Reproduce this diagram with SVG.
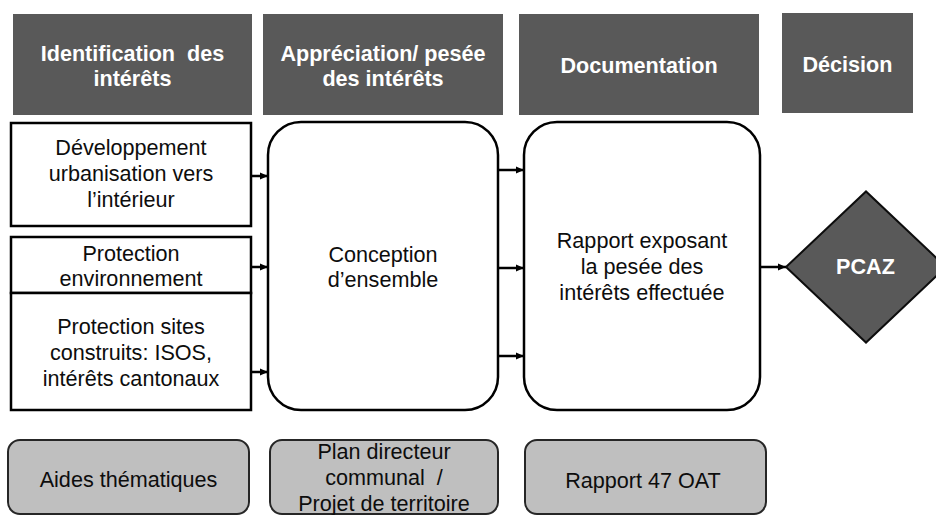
<svg xmlns="http://www.w3.org/2000/svg" width="936" height="515" viewBox="0 0 936 515">
<style>
.hdr{fill:#595959}
.ht{font-family:"Liberation Sans",Arial,sans-serif;font-size:21.6px;font-weight:bold;fill:#ffffff;text-anchor:middle}
.box{fill:#ffffff;stroke:#000000;stroke-width:2.5}
.t{font-family:"Liberation Sans",Arial,sans-serif;font-size:21.6px;fill:#0d0d0d;text-anchor:middle}
.pre{white-space:pre}
.aux{fill:#bfbfbf;stroke:#262626;stroke-width:2}
.con{stroke:#000000;stroke-width:2.5;fill:none}
</style>
<defs>
<marker id="ah" markerWidth="8" markerHeight="8" refX="8" refY="4" orient="auto" markerUnits="userSpaceOnUse">
<path d="M0,0.5 L8,4 L0,7.5 z" fill="#000000"/>
</marker>
</defs>
<rect width="936" height="515" fill="#ffffff"/>
<g id="h1"><rect class="hdr" x="13" y="14" width="239" height="101"/><text class="ht pre" xml:space="preserve" x="132.5" y="61">Identification  des</text><text class="ht" x="132.5" y="86">intérêts</text></g>
<g id="h2"><rect class="hdr" x="263" y="14" width="240" height="101"/><text class="ht" x="383" y="61">Appréciation/ pesée</text><text class="ht" x="383" y="86">des intérêts</text></g>
<g id="h3"><rect class="hdr" x="519" y="14" width="240" height="101"/><text class="ht" x="639" y="73">Documentation</text></g>
<g id="h4"><rect class="hdr" x="782" y="13" width="131" height="100"/><text class="ht" x="847.5" y="72">Décision</text></g>
<g id="n1"><rect class="box" x="11" y="123" width="240" height="103"/><text class="t" x="131" y="155">Développement</text><text class="t" x="131" y="181">urbanisation vers</text><text class="t" x="131" y="207">l’intérieur</text></g>
<g id="n2"><rect class="box" x="11" y="237" width="240" height="56"/><text class="t" x="131" y="261">Protection</text><text class="t" x="131" y="286">environnement</text></g>
<g id="n3"><rect class="box" x="11" y="293" width="240" height="117"/><text class="t" x="131" y="334">Protection sites</text><text class="t" x="131" y="360">construits: ISOS,</text><text class="t" x="131" y="386">intérêts cantonaux</text></g>
<g id="n4"><rect class="box" x="268" y="122" width="230" height="288" rx="33" ry="33"/><text class="t" x="383" y="262">Conception</text><text class="t" x="383" y="287">d’ensemble</text></g>
<g id="n5"><rect class="box" x="524" y="122" width="236" height="288" rx="33" ry="33"/><text class="t" x="642" y="248">Rapport exposant</text><text class="t" x="642" y="274">la pesée des</text><text class="t" x="642" y="300">intérêts effectuée</text></g>
<g id="n6"><path d="M786,267 L866,191.5 L946,267 L866,342.5 Z" fill="#595959" stroke="#0d0d0d" stroke-width="2"/><text class="ht" x="865.5" y="274">PCAZ</text></g>
<g id="b1"><rect class="aux" x="8" y="440" width="241" height="74" rx="12" ry="12"/><text class="t" x="128.5" y="487">Aides thématiques</text></g>
<g id="b2"><rect class="aux" x="270" y="440" width="228" height="74" rx="12" ry="12"/><text class="t" x="384" y="459">Plan directeur</text><text class="t pre" xml:space="preserve" x="384" y="485">communal  /</text><text class="t" x="384" y="511">Projet de territoire</text></g>
<g id="b3"><rect class="aux" x="525" y="440" width="241" height="74" rx="12" ry="12"/><text class="t" x="643" y="488">Rapport 47 OAT</text></g>
<g id="connectors">
<line class="con" x1="251" y1="176" x2="268" y2="176" marker-end="url(#ah)"/>
<line class="con" x1="251" y1="267" x2="268" y2="267" marker-end="url(#ah)"/>
<line class="con" x1="251" y1="372" x2="268" y2="372" marker-end="url(#ah)"/>
<line class="con" x1="498" y1="170" x2="524" y2="170" marker-end="url(#ah)"/>
<line class="con" x1="498" y1="268" x2="524" y2="268" marker-end="url(#ah)"/>
<line class="con" x1="498" y1="356" x2="524" y2="356" marker-end="url(#ah)"/>
<line class="con" x1="760" y1="267" x2="786" y2="267" marker-end="url(#ah)"/>
</g>
</svg>
